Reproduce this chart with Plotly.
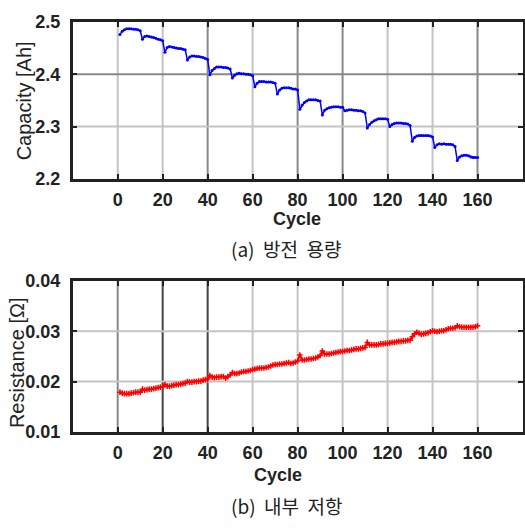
import plotly.graph_objects as go

# ---------------- data ----------------
cycles = list(range(1, 161))

capacity = [
    2.476, 2.482, 2.485, 2.487, 2.487, 2.487, 2.486, 2.486, 2.485, 2.483,
    2.467, 2.472, 2.473, 2.472, 2.471, 2.470, 2.469, 2.467, 2.466, 2.464,
    2.442, 2.451, 2.453, 2.452, 2.451, 2.450, 2.449, 2.449, 2.448, 2.447,
    2.427, 2.433, 2.435, 2.435, 2.434, 2.434, 2.433, 2.432, 2.430, 2.428,
    2.399, 2.407, 2.411, 2.414, 2.414, 2.414, 2.413, 2.413, 2.412, 2.410,
    2.393, 2.398, 2.401, 2.402, 2.401, 2.401, 2.400, 2.400, 2.399, 2.397,
    2.376, 2.383, 2.386, 2.386, 2.386, 2.385, 2.385, 2.385, 2.384, 2.383,
    2.362, 2.370, 2.373, 2.374, 2.374, 2.374, 2.373, 2.372, 2.372, 2.370,
    2.333, 2.341, 2.346, 2.349, 2.351, 2.351, 2.351, 2.351, 2.350, 2.349,
    2.322, 2.331, 2.334, 2.336, 2.337, 2.338, 2.338, 2.338, 2.337, 2.337,
    2.330, 2.331, 2.332, 2.332, 2.331, 2.331, 2.330, 2.330, 2.329, 2.326,
    2.297, 2.304, 2.308, 2.311, 2.313, 2.315, 2.315, 2.315, 2.315, 2.314,
    2.300, 2.304, 2.306, 2.307, 2.307, 2.307, 2.306, 2.306, 2.305, 2.302,
    2.272, 2.279, 2.282, 2.283, 2.283, 2.283, 2.283, 2.283, 2.282, 2.280,
    2.260, 2.265, 2.267, 2.266, 2.267, 2.266, 2.266, 2.266, 2.265, 2.262,
    2.235, 2.242, 2.244, 2.245, 2.245, 2.244, 2.242, 2.241, 2.241, 2.241,
]

resistance = [
    .0179, .0177, .0176, .0176, .0176, .0177, .0178, .0179, .0179, .0179,
    .0185, .0183, .0184, .0185, .0185, .0186, .0187, .0188, .0189, .0190,
    .0194, .0191, .0191, .0192, .0193, .0194, .0194, .0195, .0196, .0197,
    .0200, .0199, .0199, .0200, .0200, .0201, .0201, .0203, .0204, .0205,
    .0212, .0209, .0208, .0209, .0209, .0210, .0210, .0207, .0210, .0213,
    .0218, .0216, .0216, .0217, .0219, .0220, .0220, .0221, .0222, .0224,
    .0225, .0226, .0227, .0227, .0227, .0228, .0229, .0231, .0233, .0234,
    .0234, .0235, .0235, .0236, .0237, .0238, .0236, .0237, .0239, .0241,
    .0253, .0243, .0243, .0244, .0245, .0245, .0246, .0247, .0249, .0252,
    .0261, .0255, .0255, .0255, .0256, .0257, .0258, .0259, .0260, .0260,
    .0261, .0262, .0262, .0263, .0264, .0265, .0265, .0266, .0267, .0268,
    .0278, .0273, .0273, .0273, .0273, .0274, .0275, .0275, .0276, .0276,
    .0277, .0278, .0278, .0279, .0280, .0280, .0281, .0281, .0282, .0282,
    .0289, .0295, .0298, .0296, .0294, .0295, .0296, .0297, .0299, .0301,
    .0300, .0299, .0300, .0301, .0301, .0303, .0305, .0306, .0306, .0307,
    .0311, .0309, .0308, .0308, .0308, .0308, .0308, .0308, .0309, .0311,
]

x_ticks = [0, 20, 40, 60, 80, 100, 120, 140, 160]
cap_ticks = [2.2, 2.3, 2.4, 2.5]
cap_tick_labels = ["2.2", "2.3", "2.4", "2.5"]
res_ticks = [0.01, 0.02, 0.03, 0.04]
res_tick_labels = ["0.01", "0.02", "0.03", "0.04"]

cap_title = "Capacity [Ah]"
res_title = "Resistance [Ω]"
x_title = "Cycle"
caption_a = "(a)  방전  용량"
caption_b = "(b)  내부  저항"

# ---------------- styles ----------------
LIGHT, MED, DARK = "#c4c4c4", "#888888", "#444444"
top_xgrid_colors = [LIGHT, LIGHT, MED, LIGHT, MED, MED, LIGHT, LIGHT, MED]
top_ygrid_colors = {2.3: LIGHT, 2.4: MED}
bot_xgrid_colors = [MED, DARK, DARK, LIGHT, LIGHT, LIGHT, LIGHT, LIGHT, LIGHT]
bot_ygrid_colors = {0.02: LIGHT, 0.03: LIGHT}

W, H = 525, 528
tick_font = dict(family="Liberation Sans, Arial, sans-serif", size=18, color="#222222")
frame = "#222222"

fig = go.Figure()
fig.add_trace(go.Scatter(
    x=cycles, y=capacity, mode="lines+markers",
    line=dict(color="#0000ff", width=1.5),
    marker=dict(color="#0000ff", size=3),
    xaxis="x", yaxis="y", showlegend=False))
fig.add_trace(go.Scatter(
    x=cycles, y=resistance, mode="lines+markers",
    line=dict(color="#ff0000", width=2),
    marker=dict(color="#ff0000", size=4, symbol="cross-thin", line=dict(color="#ff0000", width=1.5)),
    xaxis="x2", yaxis="y2", showlegend=False))

def px_dom(top, bottom):
    return [1 - bottom / H, 1 - top / H]

xdom = [73 / W, 524.5 / W]
common_x = dict(range=[-20, 180], tickvals=x_ticks, ticktext=[str(v) for v in x_ticks],
                showgrid=False, zeroline=False, showline=True, linecolor=frame, linewidth=2.5,
                mirror="ticks", ticks="inside", ticklen=5, tickwidth=2, tickcolor=frame,
                tickfont=dict(**tick_font, weight="bold"), ticklabelstandoff=3, domain=xdom)
common_y = dict(showgrid=False, zeroline=False, showline=True, linecolor=frame, linewidth=2.5,
                mirror="ticks", ticks="inside", ticklen=5, tickwidth=2, tickcolor=frame,
                tickfont=dict(**tick_font, weight="bold"), ticklabelstandoff=6)

fig.update_layout(
    width=W, height=H, autosize=False, margin=dict(l=0, r=0, t=0, b=0, pad=0),
    paper_bgcolor="white", plot_bgcolor="white",
    xaxis=dict(**common_x, anchor="y"),
    yaxis=dict(**common_y, range=[2.2, 2.5], tickvals=cap_ticks, ticktext=cap_tick_labels,
               domain=px_dom(12.4, 175.5), anchor="x"),
    xaxis2=dict(**common_x, anchor="y2"),
    yaxis2=dict(**common_y, range=[0.01, 0.04], tickvals=res_ticks, ticktext=res_tick_labels,
                domain=px_dom(281.7, 438.5), anchor="x2"),
)

shapes = []
for v, c in zip(x_ticks, top_xgrid_colors):
    shapes.append(dict(type="line", xref="x", yref="y domain", x0=v, x1=v, y0=0, y1=1,
                       line=dict(color=c, width=2), layer="below"))
for v, c in zip(x_ticks, bot_xgrid_colors):
    shapes.append(dict(type="line", xref="x2", yref="y2 domain", x0=v, x1=v, y0=0, y1=1,
                       line=dict(color=c, width=2), layer="below"))
for v, c in top_ygrid_colors.items():
    shapes.append(dict(type="line", xref="x domain", yref="y", x0=0, x1=1, y0=v, y1=v,
                       line=dict(color=c, width=2), layer="below"))
for v, c in bot_ygrid_colors.items():
    shapes.append(dict(type="line", xref="x2 domain", yref="y2", x0=0, x1=1, y0=v, y1=v,
                       line=dict(color=c, width=2), layer="below"))
fig.update_layout(shapes=shapes)

lab_font = dict(family="Liberation Sans, Arial, sans-serif", size=20, color="#222222")
bold_font = dict(family="Liberation Sans, Arial, sans-serif", size=18, color="#222222", weight="bold")
kr_font = dict(family="Noto Sans CJK KR, sans-serif", size=19, color="#222222")

def ann(text, xpx, ypx, font, angle=0):
    return dict(text=text, x=xpx / W, y=1 - ypx / H, xref="paper", yref="paper",
                xanchor="center", yanchor="middle", showarrow=False, font=font, textangle=angle)

fig.update_layout(annotations=[
    ann(cap_title, 25, 94, lab_font, -90),
    ann(x_title, 298.5, 217, bold_font),
    ann(caption_a, 288, 248, kr_font),
    ann(res_title, 17, 366, lab_font, -90),
    ann(x_title, 279, 483, bold_font),
    ann(caption_b, 288, 515, kr_font),
])

fig.write_html("out.html", config={"displayModeBar": False, "responsive": False},
               post_script="document.body.style.margin='0';")
